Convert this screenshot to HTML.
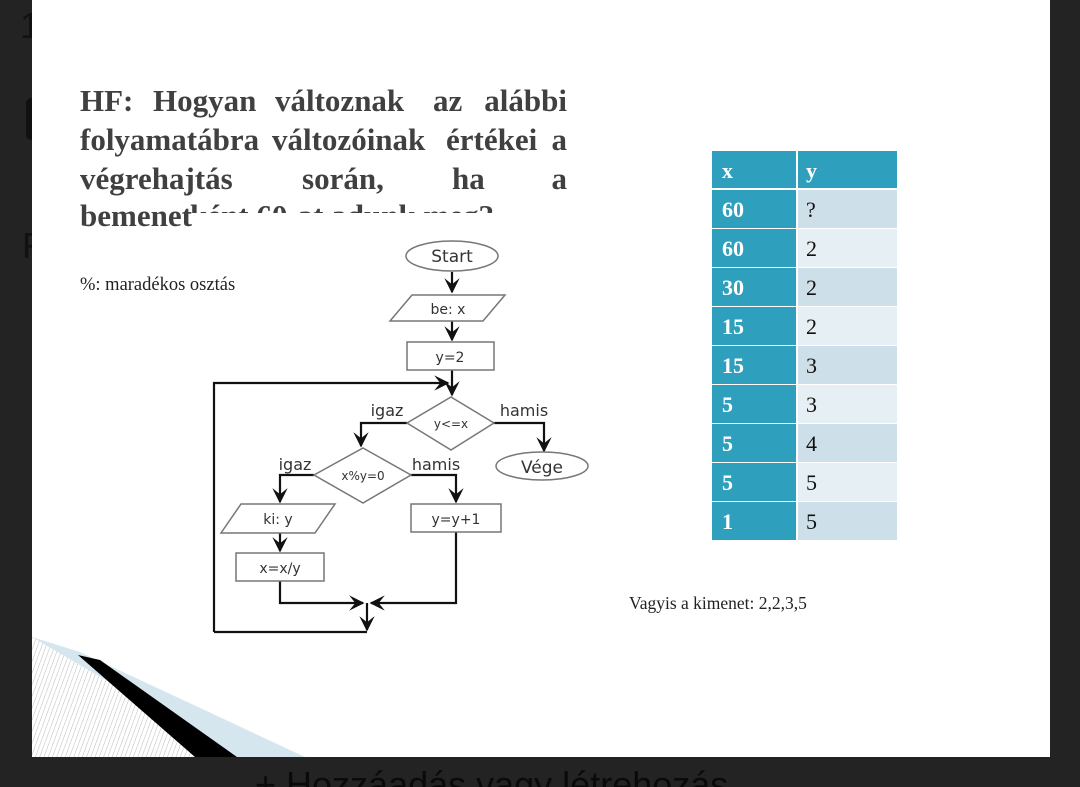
<!DOCTYPE html>
<html><head><meta charset="utf-8"><style>
html,body{margin:0;padding:0;background:#232323;width:1080px;height:787px;overflow:hidden}
svg{display:block}
</style></head><body>
<svg width="1080" height="787" viewBox="0 0 1080 787" xmlns="http://www.w3.org/2000/svg">
<defs>
<pattern id="hatch" width="4" height="4" patternUnits="userSpaceOnUse" patternTransform="rotate(20)">
<rect width="4" height="4" fill="#fff"/><line x1="0" y1="0" x2="0" y2="4" stroke="#bbb" stroke-width="1"/></pattern>
<marker id="ar" viewBox="0 0 10 10" refX="9" refY="5" markerWidth="7" markerHeight="7" orient="auto-start-reverse"><path d="M0,0 L10,5 L0,10 L4,5 z" fill="#111"/></marker>
</defs>
<rect x="0" y="0" width="1080" height="787" fill="#232323"/>
<text x="20" y="38" font-family="Liberation Sans, sans-serif" font-size="36" fill="#111">1</text>
<rect x="26" y="98" width="10" height="42" rx="5" fill="#111"/>
<text x="22" y="258" font-family="Liberation Sans, sans-serif" font-size="36" fill="#111">F</text>
<rect x="32" y="0" width="1018" height="757" fill="#fff"/>
<polygon points="32,637 32,757 230,757 80,655" fill="url(#hatch)"/>
<polygon points="32,637 80,652 305,757 237,757" fill="#d5e6ee"/>
<polygon points="78,655 100,660 237,757 195,757" fill="#000"/>
<text x="255" y="797" font-family="Liberation Sans, sans-serif" font-size="36" fill="#0a0a0a">+  Hozzáadás vagy létrehozás</text>
<g font-family="Liberation Serif, serif" font-weight="bold" font-size="31" fill="#404040">
<text x="80" y="111">HF:</text><text x="153" y="111">Hogyan</text><text x="275" y="111">változnak</text><text x="433" y="111">az</text><text x="567" y="111" text-anchor="end">alábbi</text>
<text x="80" y="150">folyamatábra</text><text x="272" y="150">változóinak</text><text x="446" y="150">értékei</text><text x="567" y="150" text-anchor="end">a</text>
<text x="80" y="189">végrehajtás</text><text x="302" y="189">során,</text><text x="452" y="189">ha</text><text x="567" y="189" text-anchor="end">a</text>
<text x="80" y="226">bemenet</text>
<svg x="190" y="195" width="400" height="18"><text x="0" y="31">ként 60-at adunk meg?</text></svg>
</g>
<text x="80" y="290" font-family="Liberation Serif, serif" font-size="18.5" fill="#222">%: maradékos osztás</text>
<g fill="none" stroke="#111" stroke-width="2.2">
<line x1="452" y1="272" x2="452" y2="292" marker-end="url(#ar)"/>
<line x1="452" y1="321" x2="452" y2="340" marker-end="url(#ar)"/>
<line x1="452" y1="370" x2="452" y2="395" marker-end="url(#ar)"/>
<polyline points="214,632 214,383 448,383" marker-end="url(#ar)"/>
<polyline points="407,423 361,423 361,446" marker-end="url(#ar)"/>
<polyline points="494,423 544,423 544,451" marker-end="url(#ar)"/>
<polyline points="314,475 280,475 280,502" marker-end="url(#ar)"/>
<polyline points="411,475 456,475 456,502" marker-end="url(#ar)"/>
<line x1="280" y1="533" x2="280" y2="551" marker-end="url(#ar)"/>
<polyline points="280,581 280,603 363,603" marker-end="url(#ar)"/>
<polyline points="456,532 456,603 371,603" marker-end="url(#ar)"/>
<polyline points="367,632 214,632"/>
<line x1="367" y1="603" x2="367" y2="630" marker-end="url(#ar)"/>
</g>
<g fill="#fff" stroke="#777" stroke-width="1.5">
<ellipse cx="452" cy="256" rx="46" ry="15"/>
<polygon points="412,295 505,295 483,321 390,321"/>
<rect x="407" y="342" width="87" height="28"/>
<polygon points="451,397 494,423 451,450 407,423"/>
<ellipse cx="542" cy="466" rx="46" ry="14"/>
<polygon points="363,448 411,475 363,503 314,475"/>
<polygon points="241,504 335,504 315,533 221,533"/>
<rect x="236" y="553" width="88" height="28"/>
<rect x="411" y="504" width="90" height="28"/>
</g>
<g font-family="DejaVu Sans, Liberation Sans, sans-serif" fill="#333" text-anchor="middle">
<text x="452" y="262" font-size="17">Start</text>
<text x="448" y="314" font-size="14">be: x</text>
<text x="450" y="362" font-size="14">y=2</text>
<text x="451" y="428" font-size="12">y&lt;=x</text>
<text x="542" y="473" font-size="17">Vége</text>
<text x="363" y="480" font-size="12">x%y=0</text>
<text x="278" y="524" font-size="14">ki: y</text>
<text x="280" y="573" font-size="14">x=x/y</text>
<text x="456" y="524" font-size="14">y=y+1</text>
<text x="387" y="416" font-size="16">igaz</text>
<text x="524" y="416" font-size="16">hamis</text>
<text x="295" y="470" font-size="16">igaz</text>
<text x="436" y="470" font-size="16">hamis</text>
</g>
<rect x="712" y="151" width="84" height="37" fill="#2ea0bd"/>
<rect x="798" y="151" width="99" height="37" fill="#2ea0bd"/>
<g font-family="Liberation Serif, serif" font-size="22">
<text x="722" y="178" fill="#fff" font-weight="bold">x</text>
<text x="806" y="178" fill="#fff" font-weight="bold">y</text>
</g>
<g font-family="Liberation Serif, serif" font-size="22">
<rect x="712" y="190" width="84" height="38" fill="#2ea0bd"/><rect x="798" y="190" width="99" height="38" fill="#cddfe8"/>
<rect x="712" y="229" width="84" height="38" fill="#2ea0bd"/><rect x="798" y="229" width="99" height="38" fill="#e6eff4"/>
<rect x="712" y="268" width="84" height="38" fill="#2ea0bd"/><rect x="798" y="268" width="99" height="38" fill="#cddfe8"/>
<rect x="712" y="307" width="84" height="38" fill="#2ea0bd"/><rect x="798" y="307" width="99" height="38" fill="#e6eff4"/>
<rect x="712" y="346" width="84" height="38" fill="#2ea0bd"/><rect x="798" y="346" width="99" height="38" fill="#cddfe8"/>
<rect x="712" y="385" width="84" height="38" fill="#2ea0bd"/><rect x="798" y="385" width="99" height="38" fill="#e6eff4"/>
<rect x="712" y="424" width="84" height="38" fill="#2ea0bd"/><rect x="798" y="424" width="99" height="38" fill="#cddfe8"/>
<rect x="712" y="463" width="84" height="38" fill="#2ea0bd"/><rect x="798" y="463" width="99" height="38" fill="#e6eff4"/>
<rect x="712" y="502" width="84" height="38" fill="#2ea0bd"/><rect x="798" y="502" width="99" height="38" fill="#cddfe8"/>
<g fill="#fff" font-weight="bold">
<text x="722" y="217">60</text><text x="722" y="256">60</text><text x="722" y="295">30</text><text x="722" y="334">15</text><text x="722" y="373">15</text><text x="722" y="412">5</text><text x="722" y="451">5</text><text x="722" y="490">5</text><text x="722" y="529">1</text>
</g>
<g fill="#111">
<text x="806" y="217">?</text><text x="806" y="256">2</text><text x="806" y="295">2</text><text x="806" y="334">2</text><text x="806" y="373">3</text><text x="806" y="412">3</text><text x="806" y="451">4</text><text x="806" y="490">5</text><text x="806" y="529">5</text>
</g>
</g>
<text x="629" y="609" font-family="Liberation Serif, serif" font-size="17.5" fill="#222">Vagyis a kimenet: 2,2,3,5</text>
</svg>
</body></html>
